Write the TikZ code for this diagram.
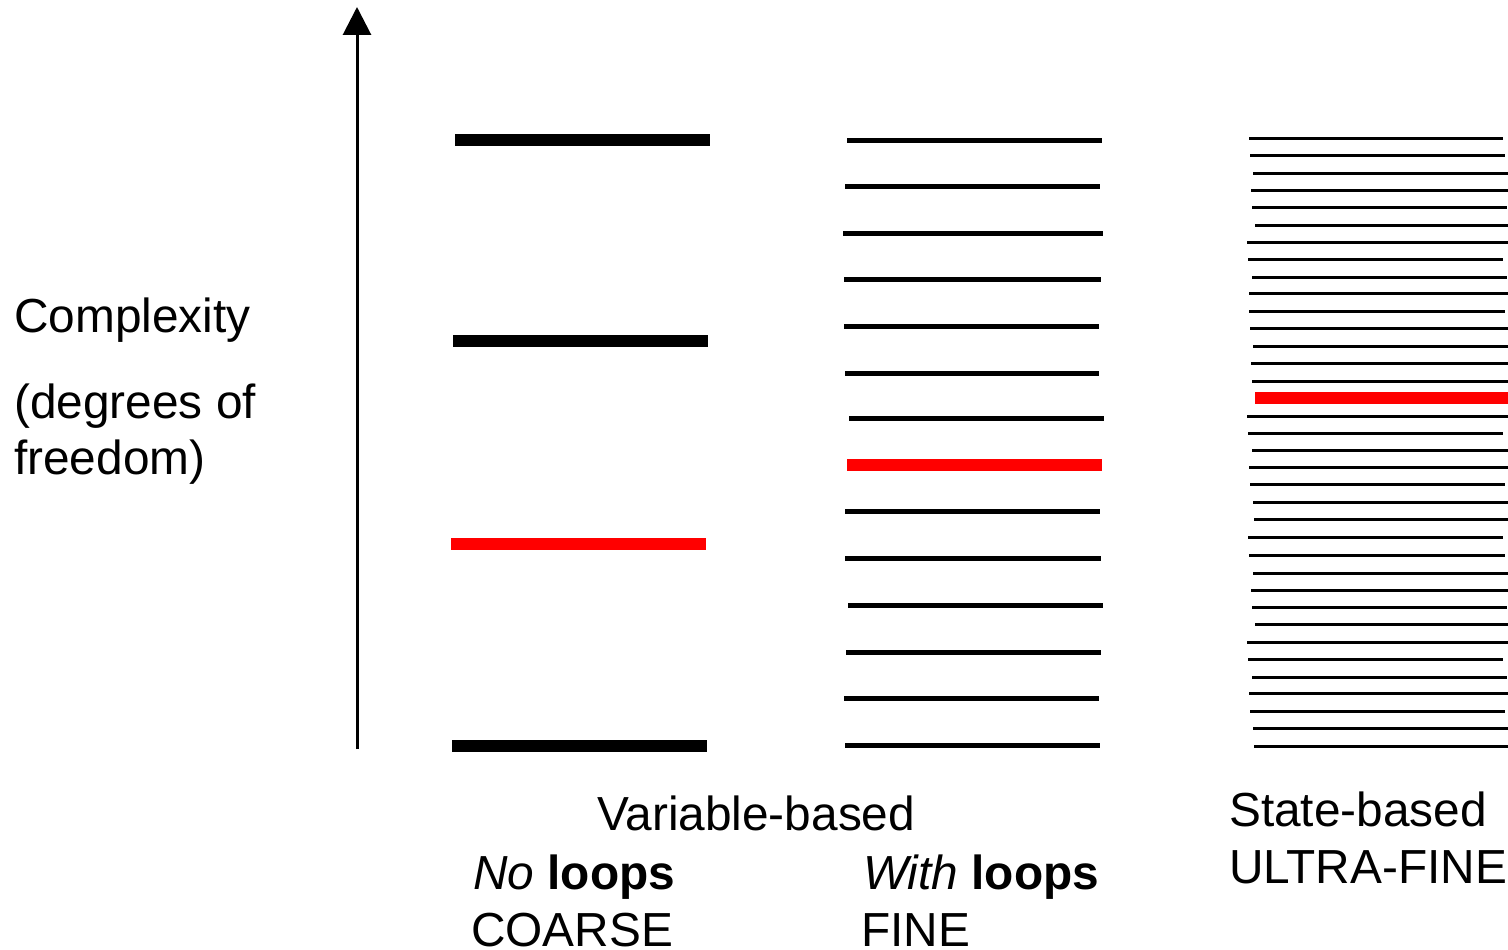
\documentclass[tikz,border=0pt]{standalone}
\usepackage{fontspec}
\setmainfont{Liberation Sans}
\usetikzlibrary{arrows.meta}
\begin{document}
\begin{tikzpicture}[x=1pt,y=-1pt,
  coarse/.style={line width=12pt},
  fine/.style={line width=5pt},
  ultra/.style={line width=3pt},
  hot/.style={red,line width=12pt},
  lbl/.style={anchor=base west,inner sep=0pt,font=\fontsize{47.8}{56}\selectfont},
  axis/.style={line width=3pt,-{Triangle[width=28pt,length=28pt]}}]
\useasboundingbox (0,0) rectangle (1508,950);
% axis
\coordinate (a0) at (357,749);
\coordinate (a1) at (357,7);
\draw[axis] (a0) -- (a1);
% coarse column
\draw[coarse] (455,140) -- (710,140);
\draw[coarse] (453,341) -- (708,341);
\draw[hot] (451,544) -- (706,544);
\draw[coarse] (452,746) -- (707,746);
% fine column
\foreach \y/\xa/\xb in {140/847/1102,186/845/1100,233/843/1103,279/844/1101,326/844/1099,373/845/1099,418/849/1104,511/845/1100,558/845/1101,605/848/1103,652/846/1101,698/844/1099,745/845/1100}
  \draw[fine] (\xa,\y) -- (\xb,\y);
\draw[hot] (847,465) -- (1102,465);
% ultra-fine column
\foreach \y/\xa/\xb in {138/1249/1503,155/1250/1505,173/1253/1508,190/1251/1508,207/1252/1507,225/1255/1508,242/1247/1508,259/1248/1503,277/1252/1507,293/1249/1508,311/1249/1505,328/1250/1508,346/1253/1508,363/1251/1508,381/1252/1508,416/1247/1508,433/1248/1503,450/1252/1508,467/1249/1508,484/1250/1505,502/1253/1508,519/1254/1508,537/1248/1503,555/1249/1505,573/1253/1508,590/1251/1508,607/1252/1507,624/1255/1508,642/1247/1508,659/1248/1503,677/1252/1507,693/1249/1508,711/1250/1505,728/1253/1508,746/1254/1508}
  \draw[ultra] (\xa,\y) -- (\xb,\y);
\draw[hot] (1255,398) -- (1508,398);
% texts
\node[lbl] (c1) at (14,332) {Complexity};
\node[lbl] (c2) at (14,418) {(degrees of};
\node[lbl] (c3) at (14,474) {freedom)};
\node[lbl] (vb) at (597,830) {Variable-based};
\node[lbl] (nl) at (473,889) {\textit{No} \textbf{loops}};
\node[lbl] (co) at (471,946) {COARSE};
\node[lbl] (wl) at (863,889) {\textit{With} \textbf{loops}};
\node[lbl] (fi) at (861,946) {FINE};
\node[lbl] (sb) at (1229,826) {State-based};
\node[lbl] (uf) at (1229,883) {ULTRA-FINE};
\end{tikzpicture}
\end{document}
